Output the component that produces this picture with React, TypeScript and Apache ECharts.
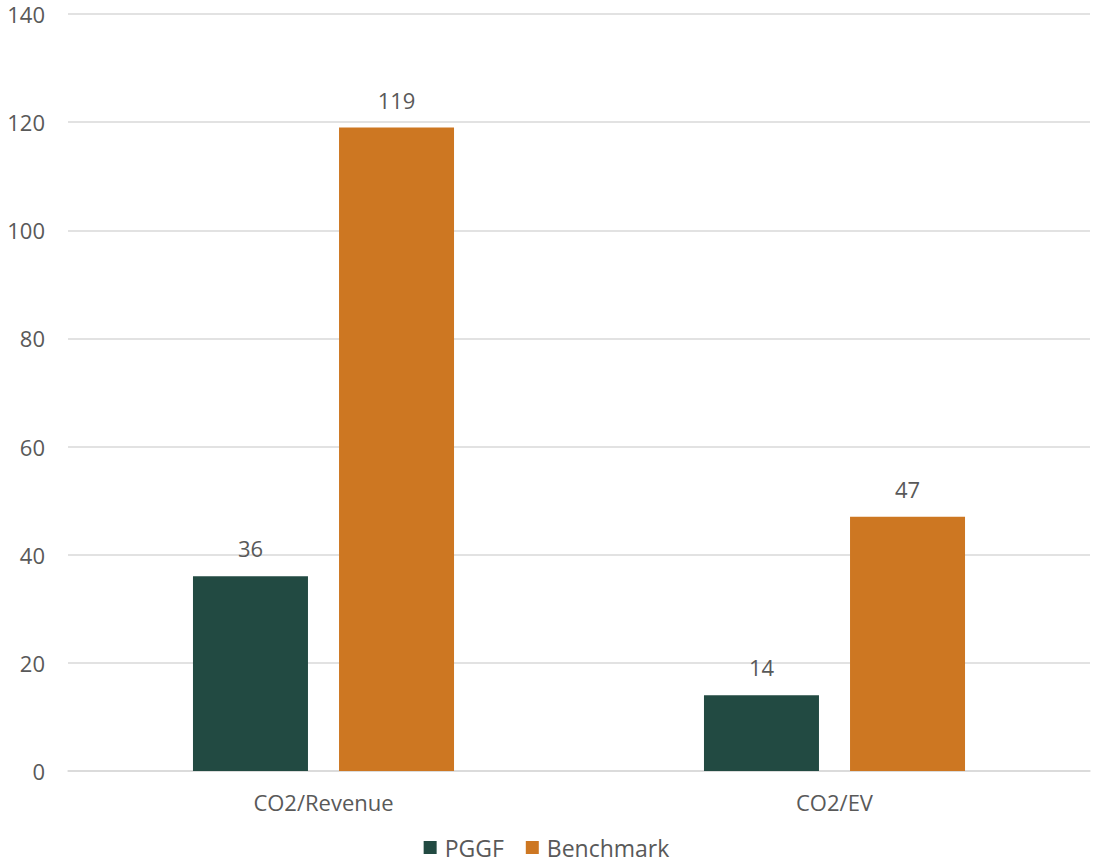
import React, { useEffect, useRef } from "react";
import * as echarts from "echarts";

const categories = ["CO2/Revenue", "CO2/EV"];
const pggfValues = [36, 14];
const benchmarkValues = [119, 47];
const yTicks = { min: 0, max: 140, interval: 20 };

const GREEN = "#224A42";
const ORANGE = "#CD7722";
const TEXT = "#595959";
const GRID = "#D9D9D9";
const FONT = "'Open Sans', 'Noto Sans', sans-serif";

export default function App() {
  const ref = useRef<HTMLDivElement>(null);

  useEffect(() => {
    if (!ref.current) return;
    const chart = echarts.init(ref.current, null, { renderer: "svg" });
    const label = {
      show: true,
      position: "top" as const,
      distance: 17,
      color: TEXT,
      fontSize: 22,
      fontFamily: FONT,
    };
    chart.setOption({
      animation: false,
      textStyle: { fontFamily: FONT },
      grid: { left: 68, right: 3, top: 14, bottom: 96, containLabel: false },
      legend: {
        top: 831,
        left: "center",
        itemWidth: 13,
        itemHeight: 13,
        itemGap: 22,
        icon: "rect",
        textStyle: { color: TEXT, fontSize: 23, fontFamily: FONT, padding: [0, 0, 0, 3] },
        data: ["PGGF", "Benchmark"],
      },
      xAxis: {
        type: "category",
        data: categories,
        axisLine: { lineStyle: { color: GRID, width: 1.5 } },
        axisTick: { show: false },
        axisLabel: { color: TEXT, fontSize: 22, margin: 20, fontFamily: FONT },
      },
      yAxis: {
        type: "value",
        min: yTicks.min,
        max: yTicks.max,
        interval: yTicks.interval,
        axisLine: { show: false },
        axisTick: { show: false },
        axisLabel: { color: TEXT, fontSize: 22, margin: 23, fontFamily: FONT },
        splitLine: { lineStyle: { color: GRID, width: 1.5 } },
      },
      series: [
        {
          name: "PGGF",
          type: "bar",
          data: pggfValues,
          barWidth: 115,
          barGap: "27%",
          itemStyle: { color: GREEN },
          label,
        },
        {
          name: "Benchmark",
          type: "bar",
          data: benchmarkValues,
          barWidth: 115,
          itemStyle: { color: ORANGE },
          label,
        },
      ],
    });
    return () => chart.dispose();
  }, []);

  return (
    <div
      ref={ref}
      style={{ position: "fixed", left: 0, top: 0, width: 1093, height: 867, background: "#fff" }}
    />
  );
}
